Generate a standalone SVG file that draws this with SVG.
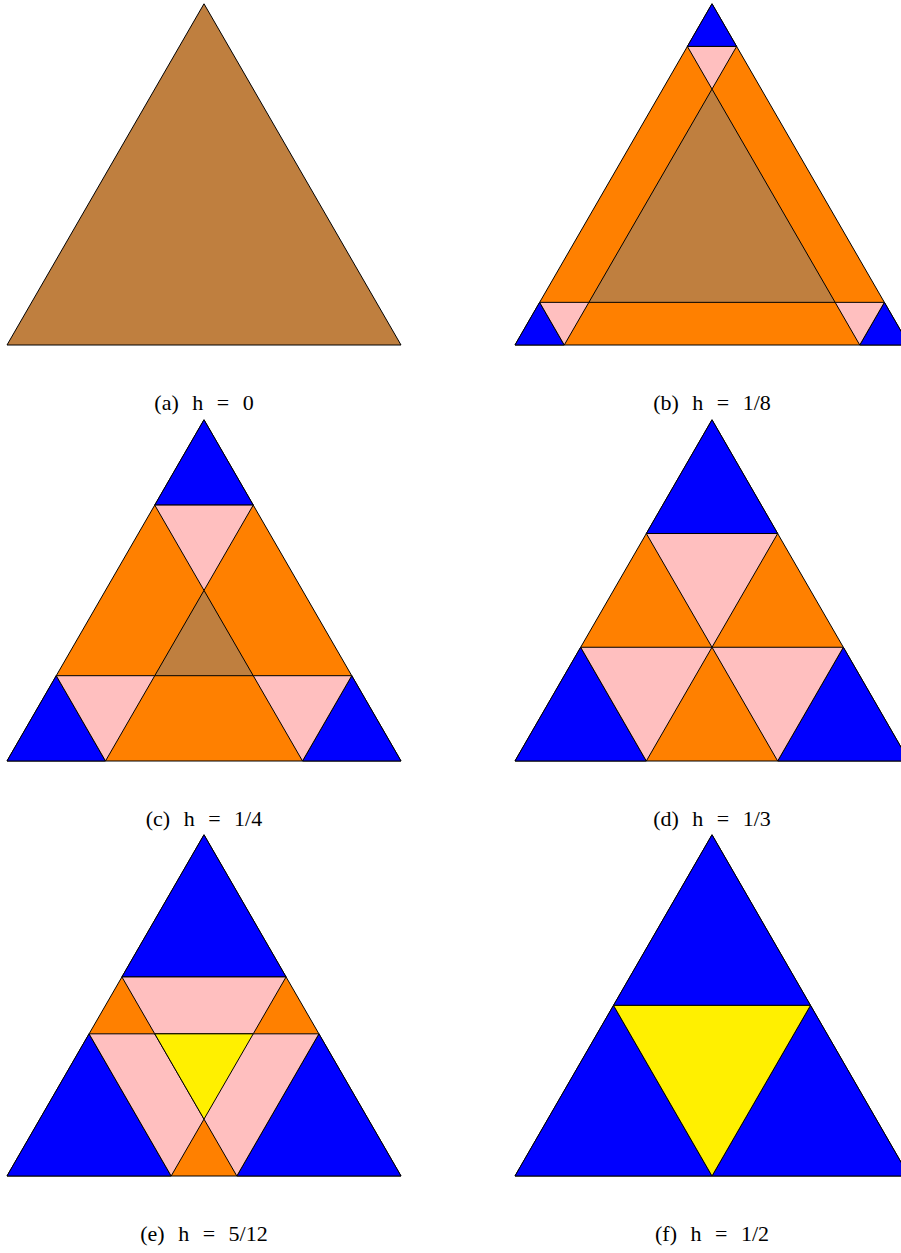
<svg xmlns="http://www.w3.org/2000/svg" width="901" height="1253" viewBox="0 0 901 1253">
<style>
polygon{stroke:#000;stroke-width:1;stroke-linejoin:miter}
.or{fill:#FF8000}.br{fill:#BF7F3F}.bl{fill:#0000FF}.pk{fill:#FFBFBF}.ye{fill:#FFF000}
text{font-family:"Liberation Serif","DejaVu Serif",serif;font-size:22px;word-spacing:8px;fill:#000;text-anchor:middle}
</style>
<rect width="901" height="1253" fill="#fff"/>
<g id="tri-a" transform="translate(7,345)">
<polygon class="br" points="0,0 394,0 197,-341.21"/>
</g>
<g id="tri-b" transform="translate(515,345)">
<polygon class="or" points="0,0 394,0 197,-341.21"/>
<polygon class="bl" points="197,-341.21 172.375,-298.56 221.625,-298.56"/>
<polygon class="bl" points="0,0 24.625,-42.65 49.25,0"/>
<polygon class="bl" points="394,0 369.375,-42.65 344.75,0"/>
<polygon class="pk" points="172.375,-298.56 221.625,-298.56 197,-255.91"/>
<polygon class="pk" points="24.625,-42.65 49.25,0 73.875,-42.65"/>
<polygon class="pk" points="369.375,-42.65 344.75,0 320.125,-42.65"/>
<polygon class="br" points="197,-255.91 73.875,-42.65 320.125,-42.65"/>
</g>
<g id="tri-c" transform="translate(7,761)">
<polygon class="or" points="0,0 394,0 197,-341.21"/>
<polygon class="bl" points="197,-341.21 147.75,-255.91 246.25,-255.91"/>
<polygon class="bl" points="0,0 49.25,-85.30 98.5,0"/>
<polygon class="bl" points="394,0 344.75,-85.30 295.5,0"/>
<polygon class="pk" points="147.75,-255.91 246.25,-255.91 197,-170.61"/>
<polygon class="pk" points="49.25,-85.30 98.5,0 147.75,-85.30"/>
<polygon class="pk" points="344.75,-85.30 295.5,0 246.25,-85.30"/>
<polygon class="br" points="197,-170.61 147.75,-85.30 246.25,-85.30"/>
</g>
<g id="tri-d" transform="translate(515,761)">
<polygon class="or" points="0,0 394,0 197,-341.21"/>
<polygon class="bl" points="197,-341.21 131.33,-227.47 262.67,-227.47"/>
<polygon class="bl" points="0,0 65.67,-113.74 131.33,0"/>
<polygon class="bl" points="394,0 328.33,-113.74 262.67,0"/>
<polygon class="pk" points="131.33,-227.47 262.67,-227.47 197,-113.74"/>
<polygon class="pk" points="65.67,-113.74 131.33,0 197,-113.74"/>
<polygon class="pk" points="328.33,-113.74 262.67,0 197,-113.74"/>
</g>
<g id="tri-e" transform="translate(7,1176)">
<polygon class="or" points="0,0 394,0 197,-341.21"/>
<polygon class="bl" points="197,-341.21 114.92,-199.04 279.08,-199.04"/>
<polygon class="bl" points="0,0 82.08,-142.17 164.17,0"/>
<polygon class="bl" points="394,0 311.92,-142.17 229.83,0"/>
<polygon class="pk" points="114.92,-199.04 279.08,-199.04 197,-56.87"/>
<polygon class="pk" points="82.08,-142.17 164.17,0 246.25,-142.17"/>
<polygon class="pk" points="311.92,-142.17 229.83,0 147.75,-142.17"/>
<polygon class="ye" points="197,-56.87 246.25,-142.17 147.75,-142.17"/>
</g>
<g id="tri-f" transform="translate(515,1176)">
<polygon class="bl" points="0,0 394,0 197,-341.21"/>
<polygon class="bl" points="197,-341.21 98.5,-170.61 295.5,-170.61"/>
<polygon class="bl" points="0,0 98.5,-170.61 197,0"/>
<polygon class="bl" points="394,0 295.5,-170.61 197,0"/>
<polygon class="ye" points="197,0 295.5,-170.61 98.5,-170.61"/>
</g>
<g id="labels">
<text x="204" y="410">(a) h = 0</text>
<text x="712" y="410">(b) h = 1/8</text>
<text x="204" y="826">(c) h = 1/4</text>
<text x="712" y="826">(d) h = 1/3</text>
<text x="204" y="1241">(e) h = 5/12</text>
<text x="712" y="1241">(f) h = 1/2</text>
</g>
</svg>
